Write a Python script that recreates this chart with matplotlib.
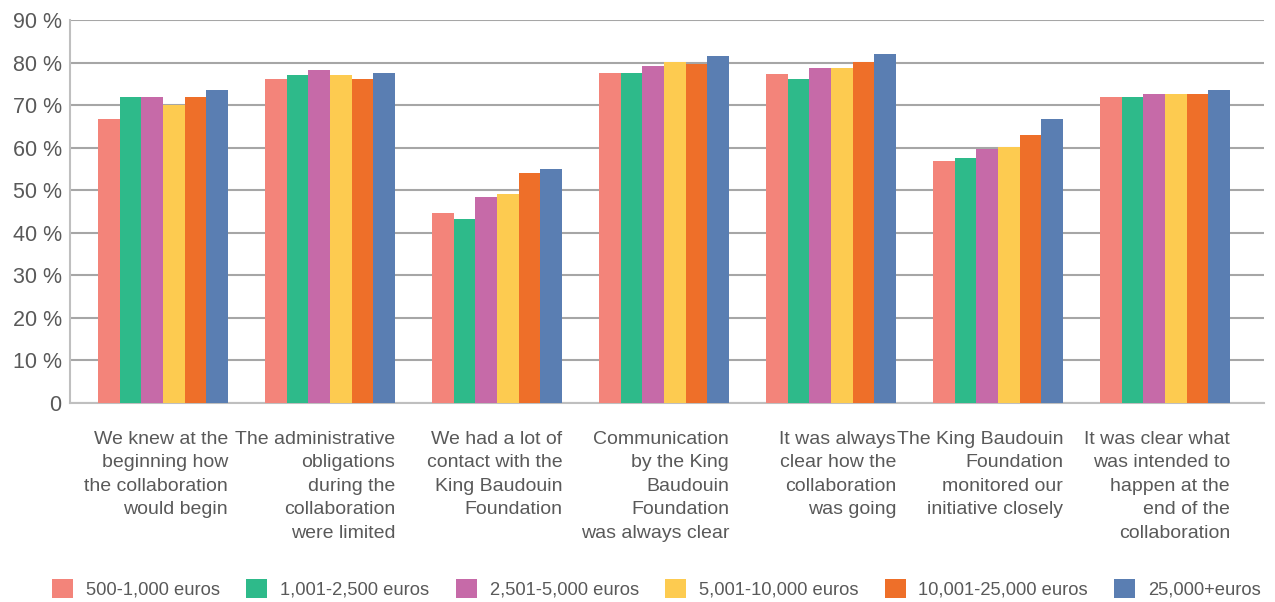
import matplotlib
matplotlib.use("Agg")
import matplotlib.pyplot as plt
import numpy as np

# ---- data ----
categories = [
    "We knew at the\nbeginning how\nthe collaboration\nwould begin",
    "The administrative\nobligations\nduring the\ncollaboration\nwere limited",
    "We had a lot of\ncontact with the\nKing Baudouin\nFoundation",
    "Communication\nby the King\nBaudouin\nFoundation\nwas always clear",
    "It was always\nclear how the\ncollaboration\nwas going",
    "The King Baudouin\nFoundation\nmonitored our\ninitiative closely",
    "It was clear what\nwas intended to\nhappen at the\nend of the\ncollaboration",
]
series_names = ["500-1,000 euros", "1,001-2,500 euros", "2,501-5,000 euros",
                "5,001-10,000 euros", "10,001-25,000 euros", "25,000+euros"]
s_500_1000 = [66.7, 76.2, 44.6, 77.6, 77.3, 56.9, 71.9]
s_1001_2500 = [71.9, 77.1, 43.2, 77.6, 76.2, 57.6, 71.9]
s_2501_5000 = [71.9, 78.3, 48.4, 79.2, 78.7, 59.7, 72.6]
s_5001_10000 = [70.1, 77.1, 49.1, 80.2, 78.7, 60.2, 72.6]
s_10001_25000 = [71.9, 76.2, 54.0, 79.7, 80.2, 63.0, 72.6]
s_25000_plus = [73.6, 77.6, 55.0, 81.6, 82.0, 66.7, 73.6]
y_ticks = [0, 10, 20, 30, 40, 50, 60, 70, 80, 90]
y_tick_labels = ["0", "10 %", "20 %", "30 %", "40 %", "50 %", "60 %", "70 %", "80 %", "90 %"]

series = [s_500_1000, s_1001_2500, s_2501_5000, s_5001_10000, s_10001_25000, s_25000_plus]
colors = ["#F3847A", "#2EBA8A", "#C66AA8", "#FDCB50", "#EE6F29", "#5A7EB2"]

plt.rcParams["font.family"] = ["Liberation Sans", "DejaVu Sans"]
txt_color = "#595959"
grid_color = "#A6A6A6"

fig = plt.figure(figsize=(12.75, 6.02), dpi=100)
ax = fig.add_axes([70 / 1275, 1 - 403 / 602, (1264 - 70) / 1275, (403 - 20) / 602])

x = np.arange(len(categories))
bw = 0.13
n = len(series)
for i, (vals, col, name) in enumerate(zip(series, colors, series_names)):
    ax.bar(x + (i - (n - 1) / 2) * bw, vals, width=bw, color=col, label=name, zorder=3)

ax.set_ylim(0, 90)
ax.set_xlim(-0.557, 6.593)
ax.set_yticks(y_ticks)
ax.set_yticklabels(y_tick_labels, fontsize=15.5, color=txt_color)
ax.yaxis.grid(True, color=grid_color, linewidth=1.5, zorder=0)
ax.set_axisbelow(True)
ax.tick_params(axis="y", length=0, pad=6)
ax.set_xticks([])
for s in ["top", "right"]:
    ax.spines[s].set_visible(False)
for s in ["left", "bottom"]:
    ax.spines[s].set_color("#BFBFBF")
    ax.spines[s].set_linewidth(1.5)

for xi, lab in zip(x, categories):
    ax.text(xi + 0.39, -6.5, lab, ha="right", va="top", multialignment="right",
            fontsize=14, color=txt_color, linespacing=1.5)

leg = fig.legend(loc="center", bbox_to_anchor=(0.515, 1 - 589 / 602), ncol=6, frameon=False,
                 fontsize=13.2, handlelength=1.15, handleheight=1.15, columnspacing=1.43,
                 handletextpad=0.7)
for t in leg.get_texts():
    t.set_color(txt_color)

fig.savefig("out.png", dpi=100)
